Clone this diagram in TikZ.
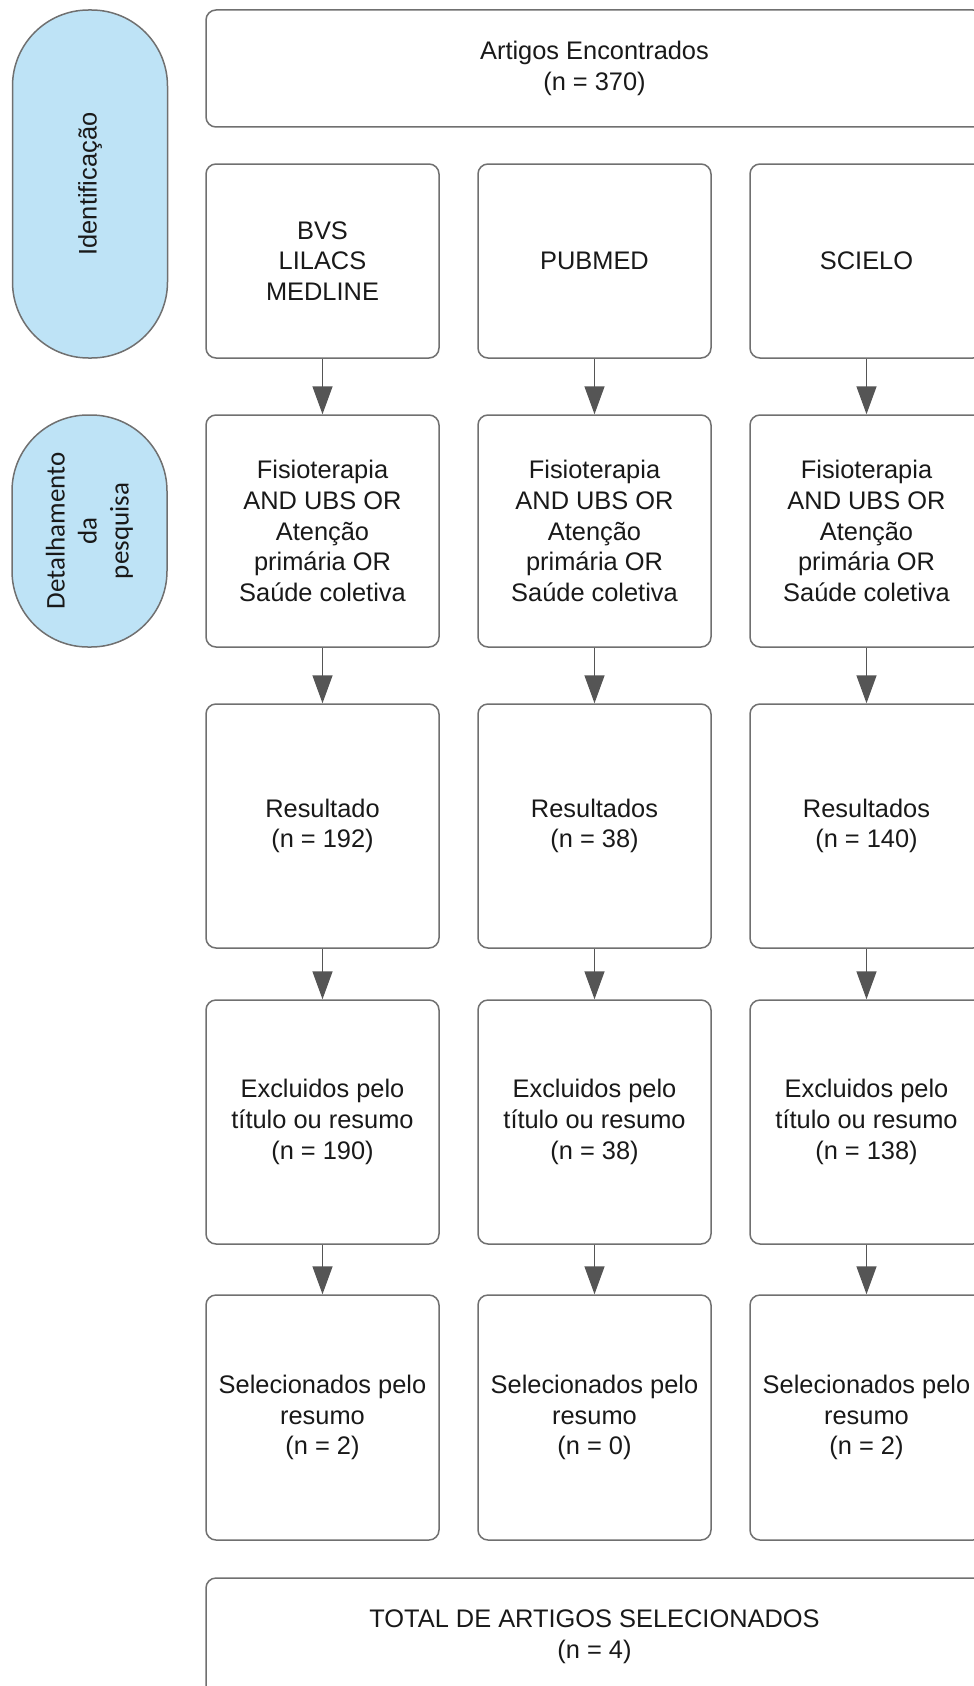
\documentclass[tikz,border=0pt]{standalone}
\usepackage{fontspec}
\setmainfont{Liberation Sans}
\newfontfamily\calibrifont{Carlito}
\usetikzlibrary{arrows.meta}
\definecolor{azulpill}{RGB}{190,227,246}
\definecolor{bordacinza}{RGB}{112,112,112}
\definecolor{setacinza}{RGB}{85,85,85}
\definecolor{textocinza}{RGB}{25,25,25}
\begin{document}
\begin{tikzpicture}[x=0.5pt,y=-0.5pt,
    caixa/.style={draw=bordacinza,line width=0.75pt,rounded corners=5pt,fill=white,
      minimum width=116.5pt,align=center,inner sep=0pt,text=textocinza,
      font=\fontsize{12.7}{15.4}\selectfont},
    larga/.style={caixa,minimum width=388.5pt,minimum height=58.5pt},
    pilula/.style={draw=bordacinza,line width=0.75pt,fill=azulpill,rounded corners=38pt,
      minimum height=77.5pt,align=center,inner sep=0pt,text=textocinza,rotate=90},
    seta/.style={draw=setacinza,line width=0.75pt,-{Triangle[width=10pt,length=14pt]}}]
            \useasboundingbox (0,0) rectangle (974,1686);
            \clip (0,0) rectangle (974,1686);
            % etapas
            \node[pilula,minimum width=174pt,font=\fontsize{12.7}{15.4}\selectfont] (ident) at (90,184) {Identificação};
            \node[pilula,minimum width=116pt,font=\calibrifont\fontsize{13.5}{16}\selectfont] (detal) at (89.5,531) {Detalhamento\\da\\pesquisa};
            % topo
            \node[larga] (artigos) at (594.5,68.5) {Artigos Encontrados\\(n = 370)};
            % bases
            \node[caixa,minimum height=97pt] (base1) at (322.5,261) {BVS\\LILACS\\MEDLINE};
            \node[caixa,minimum height=97pt] (base2) at (594.5,261) {PUBMED};
            \node[caixa,minimum height=97pt] (base3) at (866.5,261) {SCIELO};
            % descritores
            \node[caixa,minimum height=116pt] (busca1) at (322.5,531) {Fisioterapia\\AND UBS OR\\Atenção\\primária OR\\Saúde coletiva};
            \node[caixa,minimum height=116pt] (busca2) at (594.5,531) {Fisioterapia\\AND UBS OR\\Atenção\\primária OR\\Saúde coletiva};
            \node[caixa,minimum height=116pt] (busca3) at (866.5,531) {Fisioterapia\\AND UBS OR\\Atenção\\primária OR\\Saúde coletiva};
            % resultados
            \node[caixa,minimum height=122pt] (res1) at (322.5,826) {Resultado\\(n = 192)};
            \node[caixa,minimum height=122pt] (res2) at (594.5,826) {Resultados\\(n = 38)};
            \node[caixa,minimum height=122pt] (res3) at (866.5,826) {Resultados\\(n = 140)};
            % excluidos
            \node[caixa,minimum height=122pt] (excl1) at (322.5,1122) {Excluidos pelo\\título ou resumo\\(n = 190)};
            \node[caixa,minimum height=122pt] (excl2) at (594.5,1122) {Excluidos pelo\\título ou resumo\\(n = 38)};
            \node[caixa,minimum height=122pt] (excl3) at (866.5,1122) {Excluidos pelo\\título ou resumo\\(n = 138)};
            % selecionados
            \node[caixa,minimum height=122.5pt] (sel1) at (322.5,1417.5) {Selecionados pelo\\resumo\\(n = 2)};
            \node[caixa,minimum height=122.5pt] (sel2) at (594.5,1417.5) {Selecionados pelo\\resumo\\(n = 0)};
            \node[caixa,minimum height=122.5pt] (sel3) at (866.5,1417.5) {Selecionados pelo\\resumo\\(n = 2)};
            % total
            \node[larga] (total) at (594.5,1636.5) {TOTAL DE ARTIGOS SELECIONADOS\\(n = 4)};
            % setas
            \draw[seta] (base1) -- (busca1);
            \draw[seta] (base2) -- (busca2);
            \draw[seta] (base3) -- (busca3);
            \draw[seta] (busca1) -- (res1);
            \draw[seta] (busca2) -- (res2);
            \draw[seta] (busca3) -- (res3);
            \draw[seta] (res1) -- (excl1);
            \draw[seta] (res2) -- (excl2);
            \draw[seta] (res3) -- (excl3);
            \draw[seta] (excl1) -- (sel1);
            \draw[seta] (excl2) -- (sel2);
            \draw[seta] (excl3) -- (sel3);
        \end{tikzpicture}
\end{document}
